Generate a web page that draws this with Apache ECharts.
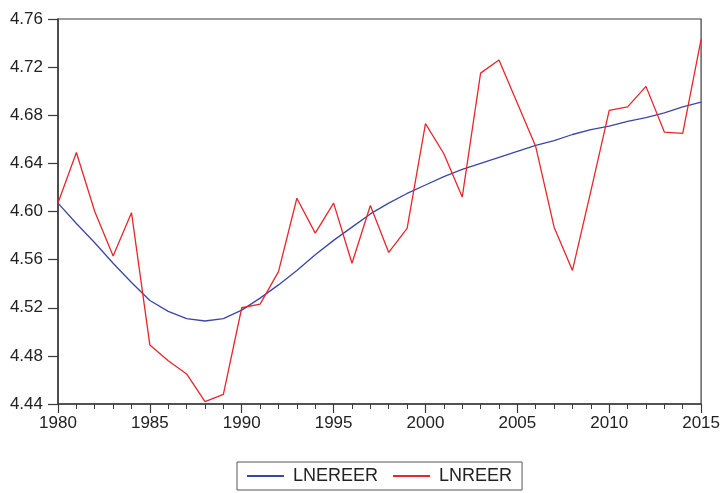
<!DOCTYPE html>
<html>
<head>
<meta charset="utf-8">
<script src="https://cdn.jsdelivr.net/npm/echarts@6/dist/echarts.min.js"></script>
<style>html,body{margin:0;padding:0;background:#fff;}#c{width:723px;height:493px;}</style>
</head>
<body>
<div id="c"></div>
<script>
const years = [1980,1981,1982,1983,1984,1985,1986,1987,1988,1989,1990,1991,1992,1993,1994,1995,1996,1997,1998,1999,2000,2001,2002,2003,2004,2005,2006,2007,2008,2009,2010,2011,2012,2013,2014,2015];
const lnereer = [4.607,4.590,4.574,4.557,4.541,4.526,4.517,4.511,4.509,4.511,4.518,4.528,4.539,4.551,4.564,4.576,4.587,4.598,4.607,4.615,4.622,4.629,4.635,4.640,4.645,4.650,4.655,4.659,4.664,4.668,4.671,4.675,4.678,4.682,4.687,4.691];
const lnreer = [4.607,4.649,4.600,4.563,4.599,4.489,4.476,4.465,4.442,4.448,4.520,4.523,4.550,4.611,4.582,4.607,4.557,4.605,4.566,4.586,4.673,4.648,4.612,4.715,4.726,4.690,4.654,4.587,4.551,4.617,4.684,4.687,4.704,4.666,4.665,4.743];
const seriesNames = ['LNEREER','LNREER'];

const font = 'Liberation Sans, Arial, sans-serif';
const axisCol = '#3a3a3a';
const chart = echarts.init(document.getElementById('c'));
chart.setOption({
  animation: false,
  backgroundColor: '#fff',
  grid: {left: 58, right: 21, top: 19, bottom: 89, show: true, borderColor: axisCol, borderWidth: 1.2},
  xAxis: {
    type: 'value', min: 1980, max: 2015, interval: 5,
    axisLine: {show: true, lineStyle: {color: axisCol, width: 1.5}},
    axisTick: {show: true, length: 9, lineStyle: {color: axisCol, width: 1.2}},
    minorTick: {show: true, splitNumber: 5, length: 5, lineStyle: {color: axisCol, width: 1}},
    splitLine: {show: false},
    axisLabel: {color: '#222', fontFamily: font, fontSize: 17, margin: 11, formatter: v => String(v)}
  },
  yAxis: {
    type: 'value', min: 4.44, max: 4.76, interval: 0.04,
    axisLine: {show: true, lineStyle: {color: axisCol, width: 1.5}},
    axisTick: {show: true, length: 10, lineStyle: {color: axisCol, width: 1.2}},
    splitLine: {show: false},
    axisLabel: {color: '#222', fontFamily: font, fontSize: 17, margin: 15, formatter: v => v.toFixed(2)}
  },
  legend: {
    left: 237, top: 462,
    padding: [5, 10, 5, 10],
    borderColor: '#555', borderWidth: 1,
    itemWidth: 37, itemHeight: 2, itemGap: 15,
    icon: 'rect',
    textStyle: {fontFamily: font, fontSize: 18, color: '#222', padding: [0, 0, 0, 4]},
    data: seriesNames
  },
  series: [
    {name: seriesNames[0], type: 'line', data: years.map((y, i) => [y, lnereer[i]]), showSymbol: false, symbol: 'none',
     lineStyle: {color: '#3a48a4', width: 1.3}, itemStyle: {color: '#3a48a4'}},
    {name: seriesNames[1], type: 'line', data: years.map((y, i) => [y, lnreer[i]]), showSymbol: false, symbol: 'none',
     lineStyle: {color: '#e8262b', width: 1.3}, itemStyle: {color: '#e8262b'}}
  ]
});
</script>
</body>
</html>
